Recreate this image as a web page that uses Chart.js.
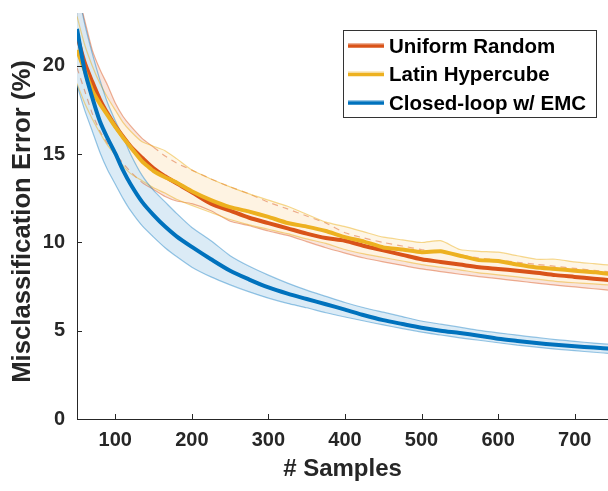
<!DOCTYPE html>
<html><head><meta charset="utf-8">
<script src="https://cdn.jsdelivr.net/npm/chart.js@4"></script>
<style>html,body{margin:0;padding:0;background:#fff;overflow:hidden}</style>
</head><body>
<canvas id="c" width="608" height="491" style="width:608px;height:491px;display:block"></canvas>
<script>
// ---- data ----
const samples = [50,60,70,80,90,100,110,120,135,150,165,180,200,225,250,275,300,325,350,375,400,425,450,475,500,525,550,575,600,625,650,675,700,725,750];

const uniformMean  = [21.75,20.2,19.1,18.1,17.3,16.6,16.0,15.45,14.8,14.2,13.75,13.35,12.85,12.2,11.8,11.4,11.1,10.8,10.5,10.25,10.1,9.8,9.55,9.3,9.05,8.9,8.75,8.6,8.5,8.4,8.28,8.15,8.05,7.95,7.85];
const uniformUpper = [24.3,22.6,20.9,19.8,18.9,17.9,17.15,16.6,15.9,15.4,14.9,14.5,14.1,13.6,13.15,12.75,12.28,11.9,11.5,11.1,10.55,10.25,10.0,9.8,9.6,9.45,9.3,9.12,9.0,8.88,8.76,8.65,8.53,8.42,8.32];
const uniformLower = [19.9,18.6,17.3,16.3,15.6,15.0,14.5,14.0,13.4,13.0,12.6,12.35,12.2,11.8,11.2,10.95,10.65,10.4,10.05,9.7,9.4,9.12,8.9,8.7,8.5,8.35,8.2,8.07,7.95,7.82,7.7,7.58,7.48,7.38,7.28];

const latinMean  = [20.9,19.75,18.6,17.85,17.2,16.55,15.95,15.4,14.6,14.05,13.7,13.4,12.9,12.4,12.0,11.75,11.45,11.1,10.9,10.65,10.3,10.05,9.72,9.6,9.45,9.5,9.25,9.0,8.95,8.75,8.58,8.5,8.4,8.32,8.2];
const latinUpper = [22.8,21.2,20.0,19.0,18.2,17.5,16.8,16.3,15.7,15.45,15.2,14.75,14.1,13.6,13.15,12.75,12.4,12.05,11.6,11.15,10.9,10.6,10.3,10.15,10.0,10.1,9.6,9.5,9.45,9.25,9.05,9.05,8.9,8.8,8.7];
const latinLower = [19.0,17.9,17.0,16.2,15.5,14.95,14.35,13.9,13.5,13.1,12.8,12.45,12.1,11.7,11.3,11.0,10.75,10.5,10.2,9.95,9.6,9.35,9.15,8.95,8.75,8.6,8.45,8.28,8.17,8.05,7.92,7.8,7.72,7.65,7.58];

const closedMean  = [22.1,19.75,18.2,16.85,15.9,15.05,14.1,13.3,12.3,11.55,10.9,10.35,9.75,9.05,8.4,7.9,7.45,7.1,6.8,6.5,6.2,5.88,5.6,5.38,5.17,5.0,4.87,4.72,4.55,4.42,4.3,4.2,4.12,4.05,3.97];
const closedUpper = [24.5,22.4,20.7,19.2,17.9,16.9,16.0,15.0,13.8,12.95,12.3,11.65,10.85,10.1,9.25,8.65,8.15,7.7,7.3,6.95,6.6,6.3,6.05,5.8,5.55,5.37,5.2,5.02,4.88,4.75,4.62,4.5,4.4,4.3,4.22];
const closedLower = [18.9,17.5,16.3,15.1,14.1,13.3,12.5,11.8,10.95,10.3,9.7,9.2,8.6,8.05,7.6,7.2,6.85,6.55,6.3,6.02,5.78,5.55,5.33,5.12,4.92,4.76,4.6,4.46,4.32,4.18,4.07,3.96,3.87,3.78,3.7];

const seriesNames = ['Uniform Random', 'Latin Hypercube', 'Closed-loop w/ EMC'];
const xTicks = [100,200,300,400,500,600,700];
const yTicks = [0,5,10,15,20];
const xTitle = '# Samples';
const yTitle = 'Misclassification Error (%)';

// ---- styles ----
const lineColors = ['#D95319', '#EDB120', '#0072BD'];
const edgeColors = ['rgba(217,83,25,0.45)', 'rgba(237,177,32,0.5)', 'rgba(0,114,189,0.4)'];
const fillColors = ['rgba(217,83,25,0.15)', 'rgba(254,245,227,0.88)', 'rgba(214,232,245,0.88)'];
const FONT = '"Liberation Sans", Arial, Helvetica, sans-serif';
const TXT = '#262626';

const pts = arr => samples.map((x, i) => ({x, y: arr[i]}));

// datasets listed bottom -> top
const layers = [];
function band(upper, lower, k) {
  layers.push({data: pts(upper), borderWidth: 0, pointRadius: 0, fill: false, tension: 0.2});
  layers.push({data: pts(lower), borderWidth: 0, pointRadius: 0, fill: '-1', backgroundColor: fillColors[k], tension: 0.2});
}
band(uniformUpper, uniformLower, 0);
band(latinUpper, latinLower, 1);
band(closedUpper, closedLower, 2);

function edge(arr, k, dashFn) {
  const d = {data: pts(arr), borderColor: edgeColors[k], borderWidth: 1.2, pointRadius: 0, fill: false, tension: 0.2};
  if (dashFn) d.segment = {borderDash: dashFn};
  layers.push(d);
}
edge(uniformUpper, 0, c => c.p0.parsed.x >= 150 ? [6, 5] : undefined);
edge(uniformLower, 0, c => c.p0.parsed.x < 125 ? [6, 5] : undefined);
edge(latinUpper, 1);
edge(latinLower, 1);
edge(closedUpper, 2);
edge(closedLower, 2);

[uniformMean, latinMean, closedMean].forEach((arr, k) => {
  layers.push({data: pts(arr), borderColor: lineColors[k], borderWidth: 4, pointRadius: 0, fill: false,
    tension: k === 1 ? 0.1 : 0.3, borderJoinStyle: 'round', borderCapStyle: 'butt'});
});
const N = layers.length;
layers.forEach((d, i) => { d.order = N - i; });

const tickMarks = {
  id: 'tickMarks',
  afterDraw(chart) {
    const {ctx, scales: {x, y}, chartArea: a} = chart;
    ctx.save();
    ctx.strokeStyle = TXT; ctx.lineWidth = 1;
    ctx.beginPath();
    xTicks.forEach(v => { const p = Math.round(x.getPixelForValue(v)) + 0.5; ctx.moveTo(p, a.bottom); ctx.lineTo(p, a.bottom - 5); });
    yTicks.forEach(v => { const p = Math.round(y.getPixelForValue(v)) + 0.5; ctx.moveTo(a.left, p); ctx.lineTo(a.left + 5, p); });
    ctx.stroke();
    // y axis title
    ctx.translate(23, 221.5);
    ctx.rotate(-Math.PI / 2);
    ctx.font = 'bold 25.7px ' + FONT;
    ctx.fillStyle = TXT;
    ctx.textAlign = 'center';
    ctx.textBaseline = 'middle';
    ctx.fillText(yTitle, 0, 0);
    ctx.restore();
  }
};

const boxLegend = {
  id: 'boxLegend',
  afterDraw(chart) {
    const ctx = chart.ctx;
    ctx.save();
    ctx.fillStyle = '#fff';
    ctx.fillRect(343.5, 30.5, 253, 87);
    ctx.strokeStyle = '#333'; ctx.lineWidth = 1;
    ctx.strokeRect(343.5, 30.5, 253, 87);
    ctx.font = 'bold 20.5px ' + FONT;
    ctx.textBaseline = 'middle';
    ctx.textAlign = 'left';
    seriesNames.forEach((n, i) => {
      const yy = 46 + i * 28.5;
      ctx.strokeStyle = edgeColors[i]; ctx.lineWidth = 1;
      ctx.beginPath(); ctx.moveTo(348, yy - 2.5); ctx.lineTo(384, yy - 2.5); ctx.stroke();
      ctx.strokeStyle = lineColors[i]; ctx.lineWidth = 3.5;
      ctx.beginPath(); ctx.moveTo(348, yy); ctx.lineTo(384, yy); ctx.stroke();
      ctx.fillStyle = '#000';
      ctx.fillText(n, 389, yy + 1);
    });
    ctx.restore();
  }
};

new Chart(document.getElementById('c'), {
  type: 'line',
  data: {datasets: layers},
  options: {
    responsive: false,
    animation: false,
    events: [],
    layout: {padding: {top: 13, right: 0, left: 0, bottom: 0}},
    plugins: {legend: {display: false}, tooltip: {enabled: false}},
    scales: {
      x: {
        type: 'linear', min: 50, max: 743.5, z: 1,
        afterBuildTicks: s => { s.ticks = xTicks.map(v => ({value: v})); },
        afterFit: s => { s.height = 72; s.paddingLeft = 0; s.paddingRight = 0; },
        grid: {display: false, drawTicks: false},
        border: {display: true, color: TXT, width: 1},
        ticks: {color: TXT, padding: 9, maxRotation: 0, autoSkip: false, font: {family: FONT, size: 20, weight: 'bold'}},
        title: {display: true, text: xTitle, color: TXT, padding: {top: 0, bottom: 10}, font: {family: FONT, size: 24, weight: 'bold', lineHeight: 1}}
      },
      y: {
        type: 'linear', min: 0, max: 23, z: 1,
        afterBuildTicks: s => { s.ticks = yTicks.map(v => ({value: v})); },
        afterFit: s => { s.width = 77; s.paddingTop = 0; s.paddingBottom = 0; },
        grid: {display: false, drawTicks: false},
        border: {display: true, color: TXT, width: 1},
        ticks: {color: TXT, padding: 12, autoSkip: false, font: {family: FONT, size: 20, weight: 'bold'}},
        title: {display: false}
      }
    }
  },
  plugins: [tickMarks, boxLegend]
});
</script>
</body></html>
